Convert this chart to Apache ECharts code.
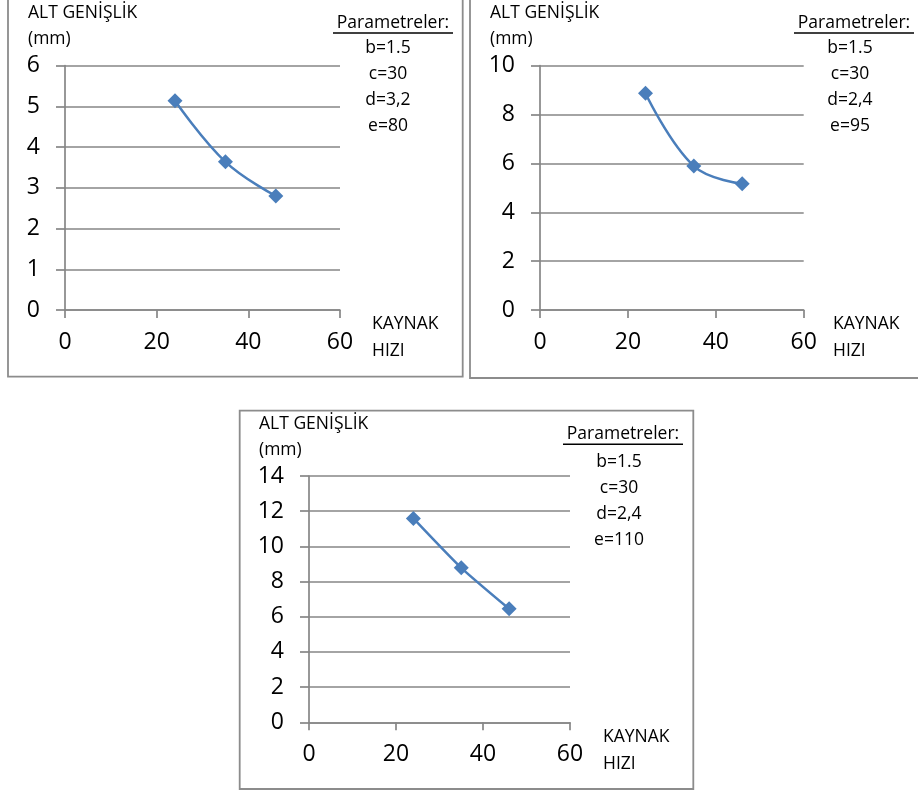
<!DOCTYPE html>
<html>
<head>
<meta charset="utf-8">
<script src="https://cdn.jsdelivr.net/npm/echarts@6/dist/echarts.min.js"></script>
<style>
html,body{margin:0;padding:0;background:#fff;}
#c{width:918px;height:794px;}
</style>
</head>
<body>
<div id="c"></div>
<script>
// ---- data ----
const speeds = [24, 35, 46];               // KAYNAK HIZI
const width1 = [5.14, 3.64, 2.80];         // e=80
const width2 = [8.87, 5.89, 5.17];         // e=95
const width3 = [11.59, 8.78, 6.45];        // e=110
const xTicks = [0, 20, 40, 60];
const yMax = [6, 10, 14];
const yStep = [1, 2, 2];
const yTitle = ['ALT GENİŞLİK', '(mm)'];
const xTitle = ['KAYNAK', 'HIZI'];
const paramHead = 'Parametreler:';
const params1 = ['b=1.5', 'c=30', 'd=3,2', 'e=80'];
const params2 = ['b=1.5', 'c=30', 'd=2,4', 'e=95'];
const params3 = ['b=1.5', 'c=30', 'd=2,4', 'e=110'];

const FONT = '"Open Sans", "DejaVu Sans", sans-serif';
const GRID_C = '#868686';
const LINE_C = '#4a7ebb';
const TXT = '17.5px ' + FONT;

const panels = [
  {grid:{left:65, top:65.7, width:275, height:244.3}, data:width1, params:params1,
   box:[8, -3, 454.7, 379.7], titleX:28, titleY:13, parX:393, parY:23, parCX:388, parLineY:48, xtX:372, xtY:324},
  {grid:{left:540, top:65.7, width:263.7, height:244.3}, data:width2, params:params2,
   box:[470, -3, 460, 381], titleX:490, titleY:13, parX:854, parY:23, parCX:850, parLineY:48, xtX:833, xtY:324},
  {grid:{left:309, top:476, width:261, height:246.3}, data:width3, params:params3,
   box:[239.7, 410.7, 453.6, 378.3], titleX:259, titleY:424.5, parX:623, parY:434.3, parCX:619, parLineY:461.7, xtX:603, xtY:736.7}
];

const grids = [], xAxes = [], yAxes = [], series = [], graphics = [];
panels.forEach((p, i) => {
  grids.push(p.grid);
  xAxes.push({
    type:'value', gridIndex:i, min:xTicks[0], max:xTicks[xTicks.length-1], interval:20,
    axisLine:{show:true, onZero:false, lineStyle:{color:GRID_C, width:1.7}},
    axisTick:{show:true, length:8, lineStyle:{color:GRID_C, width:1.7}},
    axisLabel:{show:true, margin:21, fontFamily:FONT, fontSize:23, color:'#000'},
    splitLine:{show:false}
  });
  yAxes.push({
    type:'value', gridIndex:i, min:0, max:yMax[i], interval:yStep[i],
    axisLine:{show:true, lineStyle:{color:GRID_C, width:1.7}},
    axisTick:{show:true, length:9, lineStyle:{color:GRID_C, width:1.7}},
    axisLabel:{show:true, margin:25, fontFamily:FONT, fontSize:23, color:'#000'},
    splitLine:{show:true, lineStyle:{color:GRID_C, width:1.7}}
  });
  series.push({
    type:'line', xAxisIndex:i, yAxisIndex:i,
    data: speeds.map((s, k) => [s, p.data[k]]),
    smooth: i === 2 ? 0.2 : 0.4,
    symbol:'diamond', symbolSize:15,
    lineStyle:{color:LINE_C, width:2.5},
    itemStyle:{color:LINE_C},
    z:5
  });
  graphics.push({type:'rect', shape:{x:p.box[0], y:p.box[1], width:p.box[2], height:p.box[3]},
    style:{fill:'none', stroke:'#8c8c8c', lineWidth:1.8}, silent:true});
  graphics.push({type:'text', x:p.titleX, y:p.titleY,
    style:{text:yTitle[0], font:TXT, fill:'#000', textVerticalAlign:'middle'}});
  graphics.push({type:'text', x:p.titleX, y:p.titleY + 26,
    style:{text:yTitle[1], font:TXT, fill:'#000', textVerticalAlign:'middle'}});
  graphics.push({type:'text', x:p.parX, y:p.parY,
    style:{text:paramHead, font:TXT, fill:'#000', textAlign:'center', textVerticalAlign:'middle'}});
  graphics.push({type:'line', shape:{x1:p.parX - 60, y1:p.parY + 10, x2:p.parX + 60, y2:p.parY + 10},
    style:{stroke:'#000', lineWidth:1.5}});
  p.params.forEach((t, k) => {
    graphics.push({type:'text', x:p.parCX, y:p.parLineY + k*26,
      style:{text:t, font:TXT, fill:'#000', textAlign:'center', textVerticalAlign:'middle'}});
  });
  graphics.push({type:'text', x:p.xtX, y:p.xtY,
    style:{text:xTitle[0], font:TXT, fill:'#000', textVerticalAlign:'middle'}});
  graphics.push({type:'text', x:p.xtX, y:p.xtY + 27,
    style:{text:xTitle[1], font:TXT, fill:'#000', textVerticalAlign:'middle'}});
});

const chart = echarts.init(document.getElementById('c'), null, {renderer:'canvas'});
chart.setOption({
  animation:false,
  backgroundColor:'#fff',
  grid:grids, xAxis:xAxes, yAxis:yAxes, series:series,
  graphic:graphics
});
</script>
</body>
</html>
